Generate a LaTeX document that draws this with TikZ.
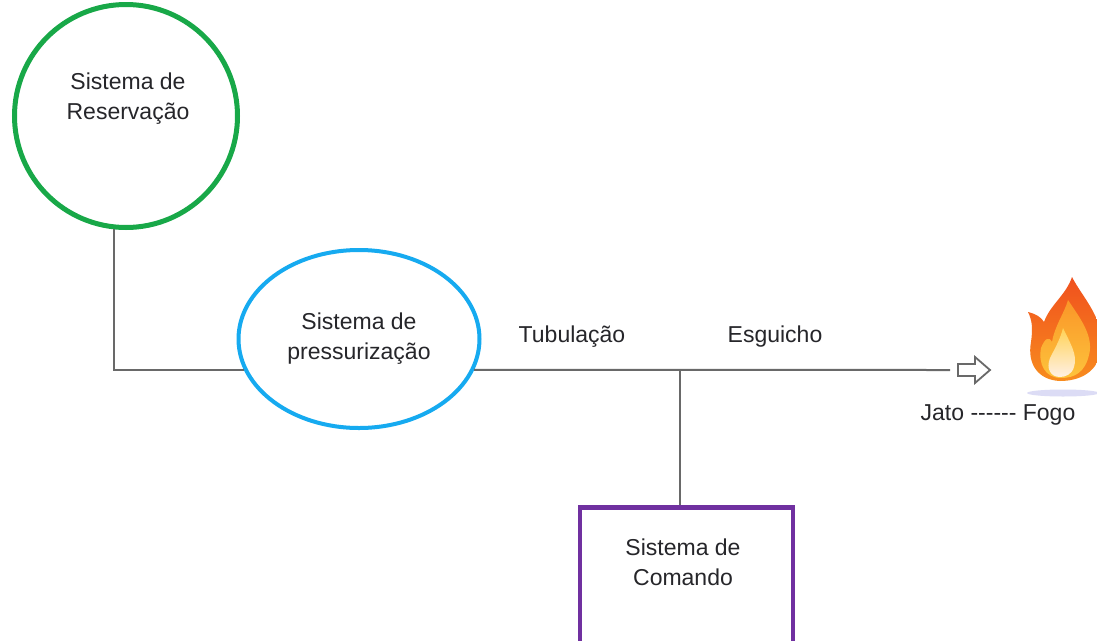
\documentclass[tikz,border=0pt]{standalone}
\usepackage{fontspec}
\setmainfont{Liberation Sans}
\usetikzlibrary{shapes.geometric}

\definecolor{verde}{RGB}{24,168,72}
\definecolor{azul}{RGB}{22,170,240}
\definecolor{roxo}{RGB}{112,48,160}
\definecolor{cinza}{RGB}{105,105,105}
\definecolor{letra}{RGB}{38,38,42}

\tikzset{
    texto/.style={align=center, text=letra, font=\fontsize{23}{30}\selectfont},
    cano/.style={draw=cinza, line width=2pt},
}

\begin{document}
\begin{tikzpicture}[x=1pt, y=-1pt]
        \clip(0, 0) rectangle (1097, 640);
        \fill[white](0, 0) rectangle (1097, 640);

        %%nodes
        \node[circle, draw=verde, line width=5pt, inner sep=0, minimum size=223pt] (reserva) at(126, 116){};
            \node[texto] (treserva) at(128, 99){Sistema de\\Reservação};
        \node[ellipse, draw=azul, line width=4pt, inner sep=0, minimum width=241pt, minimum height=178pt, texto] (press) at(359, 339){Sistema de\\pressurização};
        \node[draw=roxo, line width=4.5pt, inner sep=0, anchor=north, minimum width=213pt, minimum height=180pt] (comando) at(686.5, 505){};
            \node[texto] (tcomando) at(683, 562){Sistema de\\Comando};
        \node[texto] (tubo) at(572, 337){Tubulação};
        \node[texto] (esguicho) at(775, 337){Esguicho};
        \node[texto] (jato) at(998, 415){Jato -{}-{}-{}-{}-{}- Fogo};

        \coordinate (juncao) at(680, 370);
        \coordinate (bico) at(950, 370);

        %%canos
        \draw[cano](reserva.264) |- (press.195);
        \draw[cano](press.345) to (bico);
        \draw[cano](juncao) to (juncao |- comando.north);

        %%seta do jato
        \draw[cinza, line width=1.8pt, line join=miter](958, 364) -- (975, 364) -- (975, 357) -- (990, 370)
            -- (975, 383) -- (975, 376) -- (958, 376) -- cycle;

        %%fogo
        \fill[gray!45!blue!25, opacity=.7](1063, 393) ellipse (36 and 3.5);
        \shade[top color={rgb,255:red,240;green,80;blue,30}, bottom color={rgb,255:red,248;green,140;blue,30}]
            (1060, 381) .. controls (1038, 380) and (1027, 364) .. (1031, 342)
            .. controls (1033, 328) and (1032, 320) .. (1028, 312)
            .. controls (1036, 314) and (1041, 317) .. (1044, 322)
            .. controls (1050, 305) and (1066, 295) .. (1072, 277)
            .. controls (1082, 297) and (1106, 320) .. (1101, 350)
            .. controls (1098, 372) and (1080, 381) .. (1060, 381) -- cycle;
        \shade[top color={rgb,255:red,250;green,150;blue,40}, bottom color={rgb,255:red,253;green,195;blue,60}]
            (1061, 378) .. controls (1045, 378) and (1038, 364) .. (1041, 348)
            .. controls (1045, 338) and (1049, 336) .. (1052, 342)
            .. controls (1055, 325) and (1064, 314) .. (1068, 300)
            .. controls (1080, 318) and (1094, 336) .. (1089, 355)
            .. controls (1085, 372) and (1075, 378) .. (1061, 378) -- cycle;
        \shade[top color={rgb,255:red,255;green,210;blue,85}, bottom color={rgb,255:red,255;green,240;blue,228}]
            (1060, 377) .. controls (1050, 377) and (1046, 368) .. (1050, 358)
            .. controls (1054, 350) and (1060, 340) .. (1063, 328)
            .. controls (1070, 343) and (1078, 355) .. (1074, 367)
            .. controls (1072, 374) and (1066, 377) .. (1060, 377) -- cycle;
    \end{tikzpicture}
\end{document}
